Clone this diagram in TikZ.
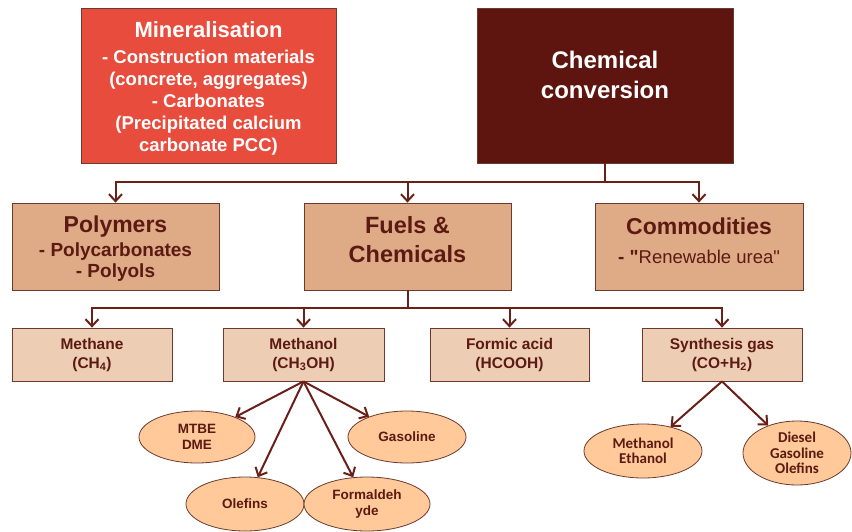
\documentclass[tikz,border=0pt]{standalone}
\usepackage{fontspec}
\setmainfont{Liberation Sans}[Ligatures=TeXOff]
\newfontfamily\calib{Carlito}
\usetikzlibrary{arrows.meta,shapes.geometric}
\definecolor{minred}{HTML}{E84C3D}
\definecolor{chemdark}{HTML}{5E1510}
\definecolor{lvtwo}{HTML}{DFAB87}
\definecolor{lvthree}{HTML}{EDCDB4}
\definecolor{ellfill}{HTML}{FFC999}
\definecolor{txtdark}{HTML}{5C1A12}
\definecolor{linecol}{HTML}{6A1F17}
\definecolor{bordcol}{HTML}{6B3A2E}
\begin{document}
\begin{tikzpicture}[x=1pt,y=-1pt,
  box/.style={draw=bordcol,line width=0.8pt,rectangle,inner sep=0pt,align=center},
  topbox/.style={box,minimum height=155pt},
  midbox/.style={box,fill=lvtwo,minimum width=207pt,minimum height=87pt},
  midtext/.style={align=center,inner sep=0pt,text=txtdark,font=\fontsize{19}{21}\selectfont\bfseries},
  lowbox/.style={box,fill=lvthree,minimum width=160pt,minimum height=53pt,text=txtdark,
     font=\fontsize{15.5}{19}\selectfont\bfseries},
  oval/.style={ellipse,draw=bordcol,line width=0.8pt,fill=ellfill,inner sep=0pt,align=center,
     text=txtdark,font=\fontsize{13.5}{16}\selectfont\bfseries},
  conn/.style={draw=linecol,line width=2pt},
  arr/.style={conn,-{Straight Barb[length=7pt,width=13pt,line width=2pt]}},
]
\useasboundingbox (0,0) rectangle (852,531);

% top level
\node[topbox,fill=minred,minimum width=255pt] (mineral) at (208.5,85.5) {};
\node[align=center,inner sep=0pt,text=white,font=\fontsize{18.5}{22}\selectfont\bfseries]
  (minlbl) at (208.5,88.5)
  {{\fontsize{22}{26}\selectfont Mineralisation}\\[4pt]
   - Construction materials\\(concrete, aggregates)\\- Carbonates\\
   (Precipitated calcium\\carbonate PCC)};
\node[topbox,fill=chemdark,minimum width=256pt] (chem) at (605,85.5) {};
\node[align=center,inner sep=0pt,text=white,font=\fontsize{24}{30}\selectfont\bfseries] (chemlbl)
  at (605,75) {Chemical\\conversion};

% second level
\node[midbox] (poly) at (115.5,246.5) {};
\node[midtext] (polylbl) at (115.5,249)
  {{\fontsize{23}{26}\selectfont Polymers}\\[3pt]- Polycarbonates\\- Polyols};
\node[midbox] (fuels) at (407.5,246.5) {};
\node[midtext,font=\fontsize{23.5}{29}\selectfont\bfseries] (fuelslbl) at (407.5,240)
  {Fuels \&\\Chemicals};
\node[midbox,minimum width=208pt] (comm) at (699,246.5) {};
\node[midtext] (commlbl) at (699,241)
  {{\fontsize{23}{26}\selectfont Commodities}\\[8pt]- "{\mdseries\fontsize{18.5}{21}\selectfont Renewable urea"}};

% third level
\node[lowbox] (methane) at (92,354.5) {Methane\\(CH\textsubscript{4})};
\node[lowbox,minimum width=161pt] (methanol) at (303.5,354.5) {Methanol\\(CH\textsubscript{3}OH)};
\node[lowbox,minimum width=159pt] (formic) at (509.5,354.5) {Formic acid\\(HCOOH)};
\node[lowbox] (syngas) at (722,354.5) {Synthesis gas\\(CO+H\textsubscript{2})};

% ellipses
\node[oval,minimum width=116pt,minimum height=52pt] (mtbe) at (197,437) {MTBE\\DME};
\node[oval,minimum width=118pt,minimum height=52pt] (gasol) at (407,437) {Gasoline};
\node[oval,minimum width=118pt,minimum height=54pt] (olef) at (245,504) {Olefins};
\node[oval,minimum width=126pt,minimum height=54pt] (formal) at (367,504) {Formaldeh\\yde};
\node[oval,minimum width=118pt,minimum height=54pt,font=\calib\fontsize{15}{15.5}\selectfont\bfseries]
  (metheth) at (643,451) {Methanol\\Ethanol};
\node[oval,minimum width=108pt,minimum height=64pt,font=\calib\fontsize{15}{15.5}\selectfont\bfseries]
  (diesel) at (797,453) {Diesel\\Gasoline\\Olefins};

% connectors top -> second
\coordinate (j1) at (605,182);
\draw[conn] (chem.south) -- (j1);
\draw[arr] (j1) -| (poly.north);
\draw[arr] (j1) -| (comm.north);
\draw[arr] (fuels.north |- j1) -- (fuels.north);

% second -> third
\coordinate (j2) at (407.5,308);
\draw[conn] (fuels.south) -- (j2);
\draw[arr] (j2) -| (methane.north);
\draw[arr] (j2) -| (syngas.north);
\draw[arr] (methanol.north |- j2) -- (methanol.north);
\draw[arr] (formic.north |- j2) -- (formic.north);

% third -> ellipses
\draw[arr] (methanol.south) -- (mtbe);
\draw[arr] (methanol.south) -- (gasol);
\draw[arr] (methanol.south) -- (olef);
\draw[arr] (methanol.south) -- (formal);
\draw[arr] (syngas.south) -- (metheth);
\draw[arr] (syngas.south) -- (diesel);
\end{tikzpicture}
\end{document}
